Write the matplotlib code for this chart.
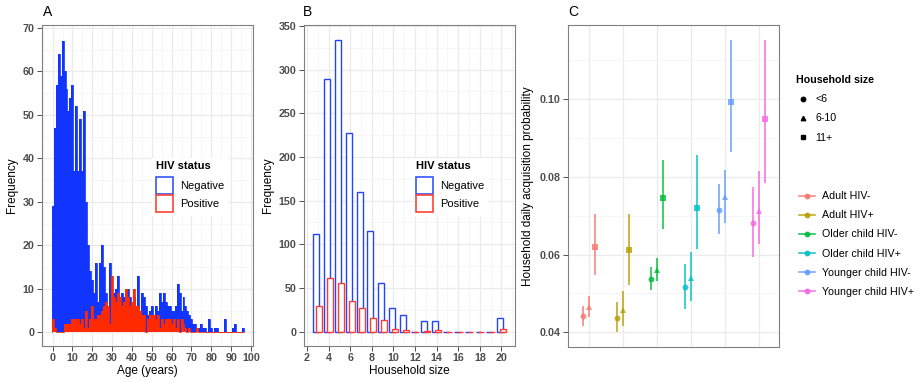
import matplotlib
matplotlib.use("Agg")
import matplotlib.pyplot as plt
from matplotlib.patches import Patch
from matplotlib.lines import Line2D
from matplotlib.ticker import MultipleLocator

plt.rcParams['font.family'] = ['Liberation Sans', 'DejaVu Sans']

# panel A: age histogram (counts per 1-year bin, ages 0..96)
ages = list(range(0, 97))
neg_age = [29, 47, 57, 64, 59, 67, 60, 56, 51, 54,
           57, 37, 52, 37, 49, 37, 51, 30, 20, 14,
           12, 9, 16, 7, 16, 20, 15, 9, 6, 16,
           8, 9, 10, 13, 8, 9, 8, 9, 10, 8,
           5, 8, 6, 13, 5, 9, 8, 6, 4, 5,
           6, 4, 6, 5, 9, 7, 9, 7, 6, 6,
           5, 5, 6, 11, 9, 5, 8, 6, 5, 4,
           3, 2, 2, 1, 1, 2, 1, 1, 0, 3,
           1, 0, 1, 1, 0, 0, 0, 3, 0, 0,
           0, 1, 2, 0, 0, 0, 1]
pos_age = [3, 1, 0, 0, 0, 0, 2, 2, 2, 2,
           3, 3, 3, 3, 2, 3, 1, 5, 1, 3,
           6, 3, 3, 4, 4, 5, 6, 7, 6, 2,
           13, 8, 7, 9, 8, 6, 7, 10, 8, 6,
           7, 10, 6, 6, 5, 4, 4, 0, 3, 4,
           4, 4, 3, 4, 1, 3, 2, 3, 3, 3,
           2, 3, 1, 3, 0, 3, 2, 1, 0, 1,
           0, 0, 0, 1, 0, 0, 0, 0, 0, 0,
           0, 0, 0, 0, 0, 0, 0, 0, 0, 0,
           0, 0, 0, 0, 0, 0, 0]

# panel B: household size histogram
hh_size = list(range(3, 21))
neg_hh = [112, 289, 334, 227, 160, 115, 56, 27, 19, 0, 12, 12, 0, 0, 0, 0, 0, 16]
pos_hh = [30, 61, 56, 35, 27, 16, 13, 3, 2, 0, 1, 2, 0, 0, 0, 0, 0, 3]

# panel C: daily acquisition probability (estimate, lower, upper)
groups = ['Adult HIV-', 'Adult HIV+', 'Older child HIV-', 'Older child HIV+',
          'Younger child HIV-', 'Younger child HIV+']
hh_groups = ['<6', '6-10', '11+']
est_lt6 = [0.0443, 0.0438, 0.0536, 0.0516, 0.0714, 0.0682]
lo_lt6 = [0.0417, 0.0400, 0.0508, 0.0460, 0.0652, 0.0595]
hi_lt6 = [0.0469, 0.0477, 0.0567, 0.0575, 0.0783, 0.0775]
est_6_10 = [0.0464, 0.0458, 0.0561, 0.0540, 0.0748, 0.0713]
lo_6_10 = [0.0439, 0.0416, 0.0532, 0.0481, 0.0681, 0.0627]
hi_6_10 = [0.0494, 0.0506, 0.0592, 0.0606, 0.0818, 0.0816]
est_11 = [0.0619, 0.0612, 0.0747, 0.0720, 0.0994, 0.0949]
lo_11 = [0.0547, 0.0522, 0.0665, 0.0615, 0.0865, 0.0785]
hi_11 = [0.0705, 0.0705, 0.0844, 0.0857, 0.1153, 0.1153]

grp_colors = ['#F8766D', '#B79F00', '#00BA38', '#00BFC4', '#619CFF', '#F564E3']
blue = '#1234FF'
red = '#FF2A00'

W, H = 919, 383
fig = plt.figure(figsize=(W / 100, H / 100), dpi=100)


def px(x0, y0, x1, y1):
    return [x0 / W, 1 - y1 / H, (x1 - x0) / W, (y1 - y0) / H]


def style(ax):
    for s in ax.spines.values():
        s.set_color('#808080')
        s.set_linewidth(0.8)
    ax.set_axisbelow(True)
    ax.grid(which='major', color='#EBEBEB', lw=0.9)
    ax.grid(which='minor', color='#F3F3F3', lw=0.5)
    ax.tick_params(which='major', length=3.5, width=0.6, color='#333333',
                   labelsize=7.7, labelcolor='#4D4D4D', pad=2)
    ax.tick_params(which='minor', length=0)


def bold_ticks(ax):
    for lbl in ax.get_xticklabels() + ax.get_yticklabels():
        lbl.set_fontweight('bold')


def hiv_legend(ax, x, y):
    handles = [Patch(facecolor='white', edgecolor='#3355FF', lw=1.2, label='Negative'),
               Patch(facecolor='white', edgecolor='#FF4433', lw=1.2, label='Positive')]
    leg = ax.legend(handles=handles, title='HIV status', loc='upper left',
                    bbox_to_anchor=(x / W, 1 - y / H), bbox_transform=fig.transFigure,
                    fontsize=8, title_fontproperties={'weight': 'bold', 'size': 8},
                    frameon=True, fancybox=False, edgecolor='none', facecolor='white',
                    framealpha=1, borderpad=0.35, handlelength=1.55, handleheight=2.05,
                    labelspacing=0.04, handletextpad=0.6, borderaxespad=0, alignment='left')
    leg._legend_box.sep = 4
    return leg


# ---- A ----
axA = fig.add_axes(px(42.3, 25, 253.3, 345.7))
style(axA)
edges = [a - 0.5 for a in ages] + [ages[-1] + 0.5]
axA.stairs(neg_age, edges, fill=True, color=blue, lw=0)
axA.stairs(neg_age, edges, color=blue, lw=0.6)
axA.stairs(pos_age, edges, fill=True, color=red, lw=0)
axA.stairs(pos_age, edges, color=red, lw=0.6)
axA.set_xlim(-5.2, 101.2)
axA.set_ylim(-3.1, 70.7)
axA.xaxis.set_major_locator(MultipleLocator(10))
axA.xaxis.set_minor_locator(MultipleLocator(5))
axA.yaxis.set_major_locator(MultipleLocator(10))
axA.yaxis.set_minor_locator(MultipleLocator(5))
axA.set_xlabel('Age (years)', fontsize=8.5, labelpad=1)
axA.set_ylabel('Frequency', fontsize=8.5, labelpad=3)
bold_ticks(axA)
hiv_legend(axA, 152, 157.5)

# ---- B ----
axB = fig.add_axes(px(304, 25, 515, 345.7))
style(axB)
xb = [s - 0.13 for s in hh_size]
xr = [s + 0.13 for s in hh_size]
axB.bar(xb, neg_hh, width=0.55, facecolor='white', edgecolor='#2244FF', lw=1.0)
axB.bar(xr, pos_hh, width=0.55, facecolor='white', edgecolor='#FF3B30', lw=1.0)
axB.set_xlim(1.72, 21.25)
axB.set_ylim(-16, 351)
axB.xaxis.set_major_locator(MultipleLocator(2))
axB.xaxis.set_minor_locator(MultipleLocator(1))
axB.yaxis.set_major_locator(MultipleLocator(50))
axB.yaxis.set_minor_locator(MultipleLocator(25))
axB.set_xlabel('Household size', fontsize=8.5, labelpad=1)
axB.set_ylabel('Frequency', fontsize=8.5, labelpad=3)
bold_ticks(axB)
hiv_legend(axB, 412, 157.5)

# ---- C ----
axC = fig.add_axes(px(568.3, 25, 779.3, 346.7))
style(axC)
series = [(est_lt6, lo_lt6, hi_lt6, 'o', -0.17, 4.3),
          (est_6_10, lo_6_10, hi_6_10, '^', 0.0, 4.6),
          (est_11, lo_11, hi_11, 's', 0.17, 4.3)]
for est, lo, hi, mk, off, ms in series:
    for i in range(len(groups)):
        axC.errorbar(i + 1 + off, est[i], yerr=[[est[i] - lo[i]], [hi[i] - est[i]]],
                     fmt=mk, color=grp_colors[i], ms=ms, elinewidth=1.3, capsize=0,
                     alpha=0.8, mew=0)
axC.set_xlim(0.4, 6.6)
axC.set_ylim(0.0363, 0.1191)
axC.set_xticks(range(1, 7))
axC.set_xticklabels([])
axC.tick_params(axis='x', length=0)
axC.yaxis.set_minor_locator(MultipleLocator(0.01))
axC.set_yticks([0.04, 0.06, 0.08, 0.10])
axC.set_yticklabels(['0.04', '0.06', '0.08', '0.10'])
axC.set_ylabel('Household daily acquisition probability', fontsize=8.5, labelpad=4)
bold_ticks(axC)

size_handles = [Line2D([], [], marker=m, color='black', ls='', ms=3.2, label=l)
                for m, l in zip(['o', '^', 's'], hh_groups)]
leg1 = fig.legend(handles=size_handles, title='Household size', loc='upper left',
                  bbox_to_anchor=(792 / W, 1 - 71 / H), fontsize=7.7,
                  title_fontproperties={'weight': 'bold', 'size': 7.7},
                  frameon=False, handlelength=1.2, labelspacing=0.85,
                  handletextpad=0.6, borderaxespad=0, alignment='left')
grp_handles = [Line2D([], [], marker='o', color=c, lw=1.2, ms=3.2, alpha=0.85, label=g)
               for c, g in zip(grp_colors, groups)]
leg2 = fig.legend(handles=grp_handles, loc='upper left',
                  bbox_to_anchor=(795 / W, 1 - 187 / H), fontsize=7.7,
                  frameon=False, handlelength=1.5, labelspacing=0.85,
                  handletextpad=0.6, borderaxespad=0)

for lab, x in [('A', 42.7), ('B', 303), ('C', 568)]:
    fig.text(x / W, 1 - 12.5 / H, lab, fontsize=10, ha='left', va='center')

fig.savefig('out.png', dpi=100)
